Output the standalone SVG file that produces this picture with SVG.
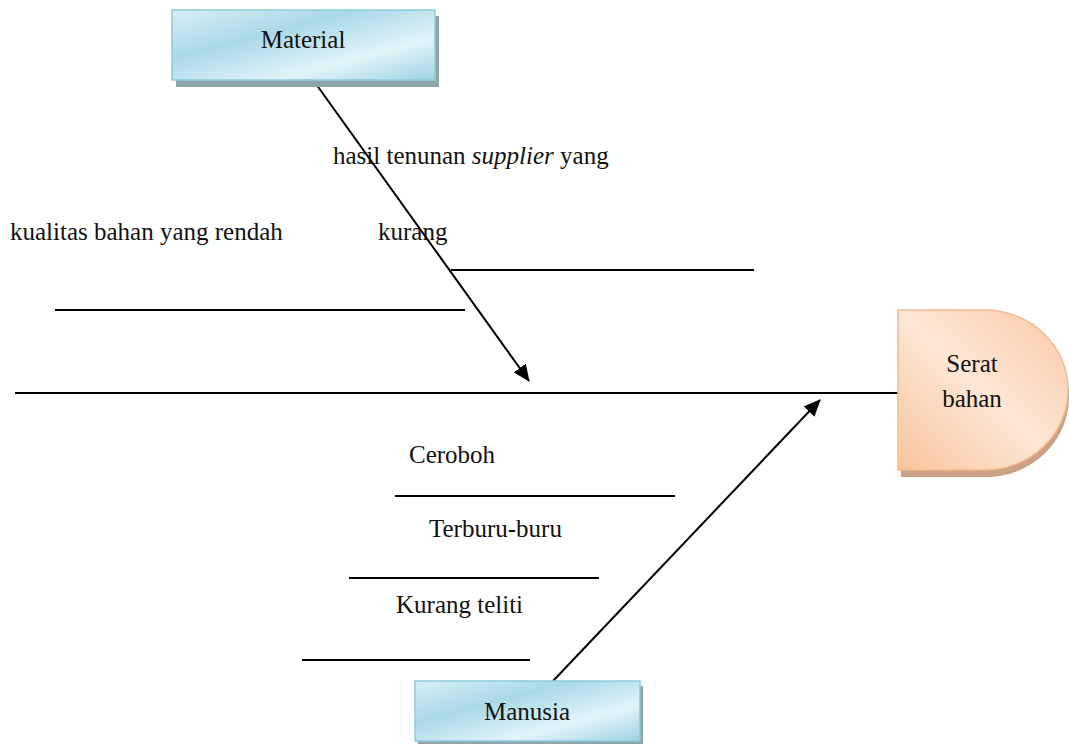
<svg xmlns="http://www.w3.org/2000/svg" width="1069" height="744" viewBox="0 0 1069 744">
<style>
text{font-family:"Liberation Serif","DejaVu Serif",serif;font-size:25px;fill:#111}
.ln{stroke:#000;stroke-width:2;fill:none}
.bx{fill:url(#blue);stroke:#8ccbdc;stroke-width:1.5}
.sh{fill:#8fa3ab}
</style>
<defs>
<linearGradient id="blue" x1="0" y1="0" x2="1" y2="1">
<stop offset="0" stop-color="#d8eef5"/>
<stop offset="0.35" stop-color="#a9d9e6"/>
<stop offset="0.7" stop-color="#e2f3f8"/>
<stop offset="1" stop-color="#9dd2e1"/>
</linearGradient>
<linearGradient id="orange" x1="0" y1="1" x2="1" y2="0">
<stop offset="0" stop-color="#f8c49b"/>
<stop offset="0.5" stop-color="#fde6d6"/>
<stop offset="1" stop-color="#f9c8a4"/>
</linearGradient>
<marker id="ah2" markerWidth="17" markerHeight="15" refX="16" refY="7.5" orient="auto" markerUnits="userSpaceOnUse" viewBox="0 0 17 15">
<path d="M0,0 L17,7.5 L0,15 z" fill="#000"/>
</marker>
</defs>
<g id="connectors">
<line class="ln" x1="15" y1="393" x2="898" y2="393"/>
<line class="ln" x1="316" y1="84" x2="529" y2="381" marker-end="url(#ah2)"/>
<line class="ln" x1="553" y1="681" x2="820" y2="400" marker-end="url(#ah2)"/>
<line class="ln" x1="451" y1="270" x2="754" y2="270"/>
<line class="ln" x1="55" y1="310" x2="465" y2="310"/>
<line class="ln" x1="395" y1="496" x2="675" y2="496"/>
<line class="ln" x1="349" y1="578" x2="599" y2="578"/>
<line class="ln" x1="302" y1="660" x2="530" y2="660"/>
</g>
<g id="material">
<rect class="sh" x="176" y="16" width="263" height="71"/>
<rect class="bx" x="172" y="10" width="263" height="70"/>
<text x="303" y="48" text-anchor="middle">Material</text>
</g>
<g id="manusia">
<rect class="sh" x="418" y="686" width="225" height="60"/>
<rect class="bx" x="415" y="681" width="225" height="60"/>
<text x="527" y="720" text-anchor="middle">Manusia</text>
</g>
<g id="serat">
<path d="M901,317 H986 A83,80 0 0 1 986,477 H901 Z" fill="#caa185"/>
<path d="M898,310 H985 A83,80 0 0 1 985,470 H898 Z" fill="url(#orange)" stroke="#f6b98c" stroke-width="1.5"/>
<text x="972" y="372" text-anchor="middle">Serat</text>
<text x="972" y="407" text-anchor="middle">bahan</text>
</g>
<g id="labels">
<text x="333" y="164">hasil tenunan <tspan font-style="italic">supplier</tspan> yang</text>
<text x="378" y="240">kurang</text>
<text x="10" y="240">kualitas bahan yang rendah</text>
<text x="409" y="463">Ceroboh</text>
<text x="429" y="537">Terburu-buru</text>
<text x="396" y="613">Kurang teliti</text>
</g>
</svg>
